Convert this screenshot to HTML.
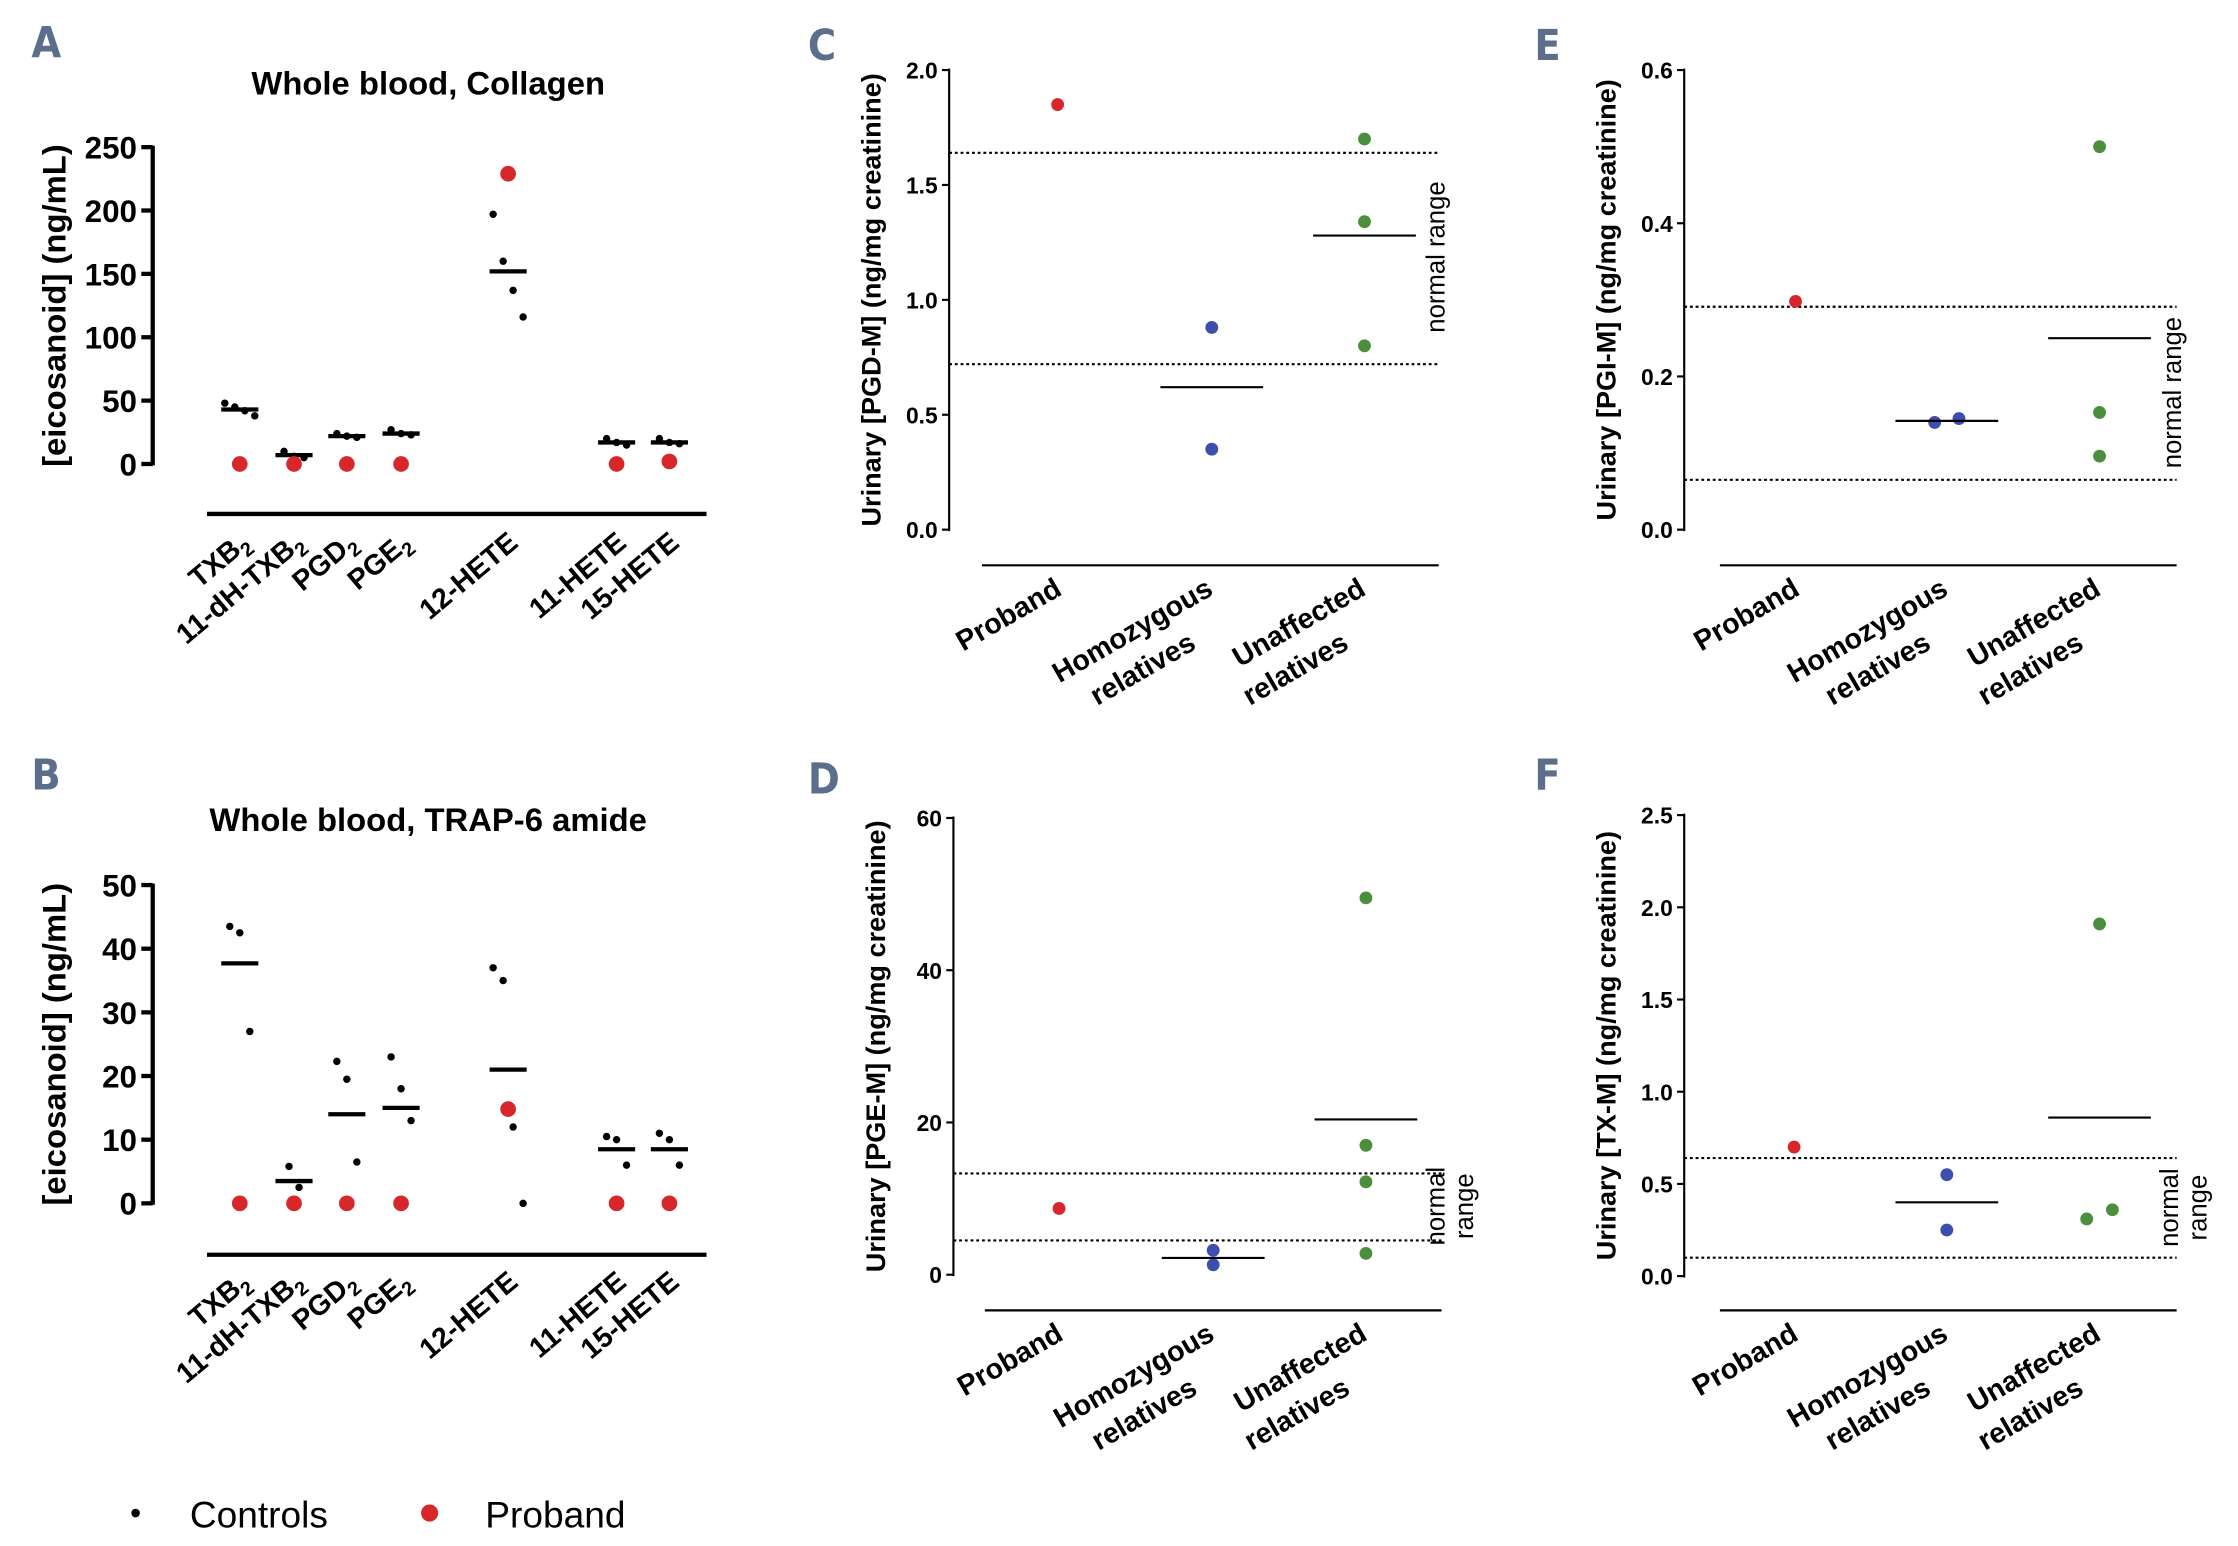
<!DOCTYPE html>
<html><head><meta charset="utf-8"><style>
html,body{margin:0;padding:0;background:#fff;}
svg{display:block;font-family:"Liberation Sans",sans-serif;}
</style></head><body>
<svg id="fig" width="2238" height="1546" viewBox="0 0 1568 1083" xmlns="http://www.w3.org/2000/svg"></svg>
<script>
// ---- Panel A data (Whole blood, Collagen) ----
const catsAB = ["TXB2","11-dH-TXB2","PGD2","PGE2","12-HETE","11-HETE","15-HETE"];
const ctrlA = [[48,45,42,38],[10,6,5],[24,22,21],[27,24,23],[197,160,137,116],[20,17,15],[20,17,16]];
const meanA = [43,7,22,24,152,17,17];
const probA = [0,0,0,0,229,0,2];
const ticksA = [0,50,100,150,200,250];
// ---- Panel B data (Whole blood, TRAP-6 amide) ----
const ctrlB = [[43.5,42.5,27],[5.8,2.5],[22.3,19.5,6.5],[23,18,13],[37,35,12,0],[10.5,10,6],[11,10,6]];
const meanB = [37.7,3.5,14,15,21,8.5,8.5];
const probB = [0,0,0,0,14.8,0,0];
const ticksB = [0,10,20,30,40,50];
// ---- Urinary panels ----
const groups = ["Proband","Homozygous relatives","Unaffected relatives"];
const valsC = [[1.85],[0.88,0.35],[1.7,1.34,0.8]];
const meansC = [null,0.62,1.28];
const rangeC = [0.72,1.64];
const ticksC = [0,0.5,1,1.5,2];
const valsE = [[0.298],[0.14,0.145],[0.5,0.153,0.096]];
const meansE = [null,0.142,0.25];
const rangeE = [0.065,0.291];
const ticksE = [0,0.2,0.4,0.6];
const valsD = [[8.7],[3.2,1.3],[49.5,17,12.2,2.8]];
const meansD = [null,2.2,20.4];
const rangeD = [4.5,13.3];
const ticksD = [0,20,40,60];
const valsF = [[0.7],[0.55,0.25],[1.91,0.31,0.36]];
const meansF = [null,0.4,0.86];
const rangeF = [0.1,0.64];
const ticksF = [0,0.5,1,1.5,2,2.5];

const svg=document.getElementById('fig');
const NS="http://www.w3.org/2000/svg";
function mk(tag,attrs,parent){const e=document.createElementNS(NS,tag);for(const k in attrs)e.setAttribute(k,attrs[k]);(parent||svg).appendChild(e);return e;}
function txt(s,attrs,parent){const e=mk('text',attrs,parent);e.textContent=s;return e;}
const RED="#d7272a",BLUE="#3d4fae",GREEN="#4b8f3d",LET="#5b6f8c";

function subLabel(g,name,x,y,rot){
  const t=txt('',{x:x,y:y,'text-anchor':'end','font-size':20,'font-weight':'bold',transform:`rotate(${rot} ${x} ${y})`},g);
  const m=name.match(/^(.*?)(2)$/);
  if(m){const a=document.createElementNS(NS,'tspan');a.textContent=m[1];t.appendChild(a);
    const b=document.createElementNS(NS,'tspan');b.setAttribute('font-size',14);b.setAttribute('dy',5);b.textContent='2';t.appendChild(b);}
  else t.textContent=name;
  
}

function panelAB(id,letter,ly,title,ty,axX,y0,yTop,maxV,ticks,ctrl,means,prob,xAxisY,labY){
  const g=mk('g',{});
  txt(letter,{x:22,y:ly,'font-size':30,'font-weight':'bold',fill:LET,'font-family':'"DejaVu Sans Condensed","Liberation Sans Narrow",sans-serif',},g);
  txt(title,{x:300,y:ty,'text-anchor':'middle','font-size':23,'font-weight':'bold',},g);
  const ys=v=>y0-(v/maxV)*(y0-yTop);
  const xs=[168,206,243,281,356,432,469];
  mk('line',{x1:axX,y1:ys(ticks[0])+1,x2:axX,y2:ys(ticks[ticks.length-1])-1,stroke:'#000','stroke-width':3,},g);
  ticks.forEach(t=>{
    mk('line',{x1:axX-8,y1:ys(t),x2:axX,y2:ys(t),stroke:'#000','stroke-width':3,},g);
    txt(String(t),{x:axX-11,y:ys(t)+8,'text-anchor':'end','font-size':22,'font-weight':'bold',},g);
  });
  txt('[eicosanoid] (ng/mL)',{x:0,y:0,'text-anchor':'middle','font-size':23,'font-weight':'bold',transform:`translate(46 ${(y0+yTop)/2}) rotate(-90)`,},g);
  mk('line',{x1:145,y1:xAxisY,x2:495,y2:xAxisY,stroke:'#000','stroke-width':3,},g);
  catsAB.forEach((c,i)=>{
    const x=xs[i];
    const n=ctrl[i].length;
    ctrl[i].forEach((v,j)=>{
      const dx=(j-(n-1)/2)*7;
      mk('circle',{cx:x+dx,cy:ys(v),r:2.6,fill:'#000',},g);
    });
    mk('line',{x1:x-13,y1:ys(means[i]),x2:x+13,y2:ys(means[i]),stroke:'#000','stroke-width':3,},g);
    mk('circle',{cx:x,cy:ys(prob[i]),r:5.5,fill:RED,},g);
    subLabel(g,c,x+8,labY,-40);
  });
}
panelAB('a','A',40,'Whole blood, Collagen',66,107,325,103,250,ticksA,ctrlA,meanA,probA,360,382);
panelAB('b','B',553,'Whole blood, TRAP-6 amide',582,107,843,620,50,ticksB,ctrlB,meanB,probB,879,900);

function fmt(t,dec){return t.toFixed(dec);}
function panelU(id,letter,lx,ly,axX,y0,yTop,maxV,ticks,dec,vals,means,range,xAxisY,xs,xl,xr,ytitle,rangeTwo,rangeX,rangeY){
  const g=mk('g',{});
  txt(letter,{x:lx,y:ly,'font-size':30,'font-weight':'bold',fill:LET,'font-family':'"DejaVu Sans Condensed","Liberation Sans Narrow",sans-serif',},g);
  const ys=v=>y0-(v/maxV)*(y0-yTop);
  mk('line',{x1:axX,y1:ys(0)+1,x2:axX,y2:ys(maxV)-1,stroke:'#000','stroke-width':1.5,},g);
  ticks.forEach(t=>{
    mk('line',{x1:axX-5,y1:ys(t),x2:axX,y2:ys(t),stroke:'#000','stroke-width':1.5,},g);
    txt(fmt(t,dec),{x:axX-8,y:ys(t)+6,'text-anchor':'end','font-size':16,'font-weight':'bold',},g);
  });
  txt(ytitle,{x:0,y:0,'text-anchor':'middle','font-size':19,'font-weight':'bold',transform:`translate(${axX-48} ${(y0+yTop)/2}) rotate(-90)`,},g);
  mk('line',{x1:xl,y1:xAxisY,x2:xr,y2:xAxisY,stroke:'#000','stroke-width':1.5,},g);
  range.forEach(r=>mk('line',{x1:axX,y1:ys(r),x2:xr,y2:ys(r),stroke:'#000','stroke-width':1.5,'stroke-dasharray':'2,2',},g));
  if(rangeTwo){
    txt('normal',{x:0,y:0,'text-anchor':'middle','font-size':18,transform:`translate(${rangeX} ${rangeY}) rotate(-90)`,},g);
    txt('range',{x:0,y:0,'text-anchor':'middle','font-size':18,transform:`translate(${rangeX+20} ${rangeY}) rotate(-90)`,},g);
  } else {
    txt('normal range',{x:0,y:0,'text-anchor':'middle','font-size':18,transform:`translate(${rangeX} ${rangeY}) rotate(-90)`,},g);
  }
  const cols=[RED,BLUE,GREEN];
  groups.forEach((gn,i)=>{
    const x=xs[i];
    vals[i].forEach((v,j)=>{
      let dx=0;
      if(i===1 && id==='e') dx=(j-0.5)*17;
      if(i===2 && id==='f' && j>0) dx=(j-1.5)*18;
      mk('circle',{cx:x+dx,cy:ys(v),r:4.5,fill:cols[i],},g);
    });
    if(means[i]!==null) mk('line',{x1:x-36,y1:ys(means[i]),x2:x+36,y2:ys(means[i]),stroke:'#000','stroke-width':1.5,},g);
    const parts=gn.split(' ');
    const by=xAxisY+20;
    if(parts.length===1){
      txt(gn,{x:x+4,y:by,'text-anchor':'end','font-size':20,'font-weight':'bold',transform:`rotate(-30 ${x+4} ${by})`,},g);
    } else {
      txt(parts[0],{x:x+2,y:by,'text-anchor':'end','font-size':20,'font-weight':'bold',transform:`rotate(-30 ${x+2} ${by})`,},g);
      txt(parts[1],{x:x-10,y:by+38,'text-anchor':'end','font-size':20,'font-weight':'bold',transform:`rotate(-30 ${x-10} ${by+38})`,},g);
    }
  });
}
panelU('c','C',566,42,665,371,49,2,ticksC,1,valsC,meansC,rangeC,396,[741,849,956],688,1008,'Urinary [PGD-M] (ng/mg creatinine)',false,1012,180);
panelU('e','E',1075,42,1180,371,49,0.6,ticksE,1,valsE,meansE,rangeE,396,[1258,1364,1471],1205,1525,'Urinary [PGI-M]  (ng/mg creatinine)',false,1528,275);
panelU('d','D',566,556,668,893,573,60,ticksD,0,valsD,meansD,rangeD,918,[742,850,957],690,1010,'Urinary [PGE-M] (ng/mg creatinine)',true,1012,845);
panelU('f','F',1075,553,1180,894,571,2.5,ticksF,1,valsF,meansF,rangeF,918,[1257,1364,1471],1205,1525,'Urinary [TX-M] (ng/mg creatinine)',true,1526,846);

// legend
const lg=mk('g',{});
mk('circle',{cx:95,cy:1060,r:3,fill:'#000',},lg);
txt('Controls',{x:133,y:1070,'font-size':26,},lg);
mk('circle',{cx:301,cy:1060,r:6,fill:RED,},lg);
txt('Proband',{x:340,y:1070,'font-size':26,},lg);
</script>
</body></html>
